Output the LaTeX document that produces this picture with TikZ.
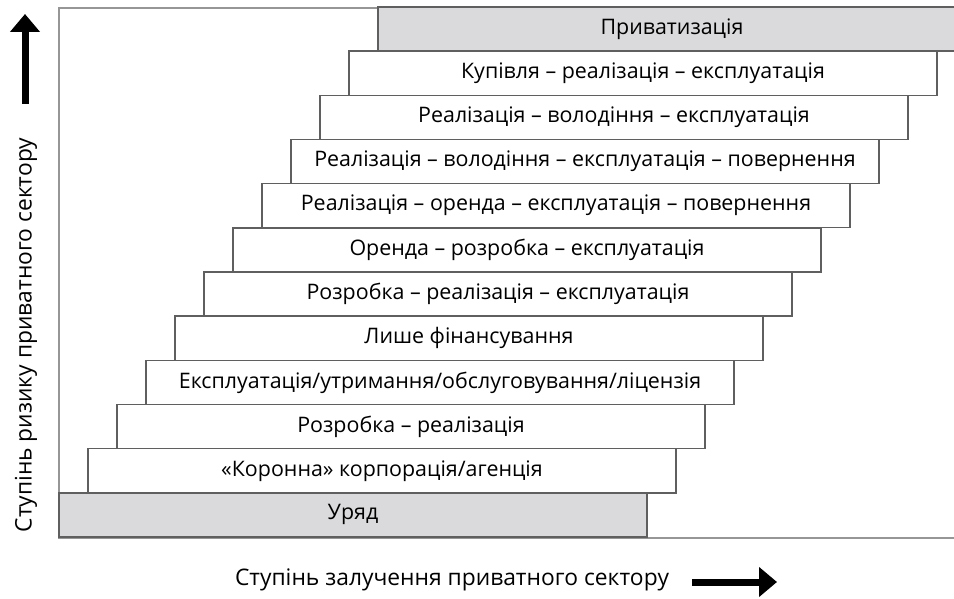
\documentclass[tikz,border=0pt]{standalone}
\usepackage{fontspec}
\setmainfont{Open Sans}
\usetikzlibrary{arrows.meta}
\definecolor{stepline}{RGB}{95, 95, 95}
\definecolor{frameline}{RGB}{150, 150, 150}
\definecolor{stepgray}{RGB}{218, 218, 220}
\tikzset{
    stepbox/.style={draw=stepline, line width=1.4pt, fill=white, inner sep=0pt,
        minimum width=588pt, minimum height=44.17pt, font=\fontsize{21.4}{24}\selectfont},
    endbox/.style={stepbox, fill=stepgray},
    bigarrow/.style={line width=7pt, -{Triangle[length=18pt, width=29pt]}},
    axislabel/.style={font=\fontsize{22.8}{26}\selectfont}
}
\begin{document}
\begin{tikzpicture}[x=1pt, y=-1pt]

        \useasboundingbox (0,0) rectangle (954,599);
        \clip (0,0) rectangle (954,599);

        % Frame
        \draw[frameline, line width=1.2pt] (59,8) rectangle (1000,538);

        % Steps, bottom to top
        \node[endbox] (uriad) at (353,514.9) {Уряд};
        \node[stepbox] (korona) at (382,470.8) {«Коронна» корпорація/агенція};
        \node[stepbox] (rozreal) at (411,426.6) {Розробка – реалізація};
        \node[stepbox] (ekspl) at (440,382.4) {Експлуатація/утримання/обслуговування/ліцензія};
        \node[stepbox] (finans) at (469,338.2) {Лише фінансування};
        \node[stepbox] (rozrealeks) at (498,294.1) {Розробка – реалізація – експлуатація};
        \node[stepbox] (orenda) at (527,249.9) {Оренда – розробка – експлуатація};
        \node[stepbox] (realoren) at (556,205.7) {Реалізація – оренда – експлуатація – повернення};
        \node[stepbox] (realvolpov) at (585,161.6) {Реалізація – володіння – експлуатація – повернення};
        \node[stepbox] (realvol) at (614,117.4) {Реалізація – володіння – експлуатація};
        \node[stepbox] (kupivlia) at (643,73.2) {Купівля – реалізація – експлуатація};
        \node[endbox] (pryvat) at (672,29.0) {Приватизація};

        % Axis labels
        \node[axislabel, rotate=90] (ylabel) at (26,335) {Ступінь ризику приватного сектору};
        \node[axislabel] (xlabel) at (452,580) {Ступінь залучення приватного сектору};

        % Axis arrows
        \coordinate (ytail) at (25,104);
        \coordinate (yhead) at (25,14);
        \draw[bigarrow] (ytail) -- (yhead);
        \coordinate (xtail) at (692,582);
        \coordinate (xhead) at (777,582);
        \draw[bigarrow] (xtail) -- (xhead);

    \end{tikzpicture}
\end{document}
